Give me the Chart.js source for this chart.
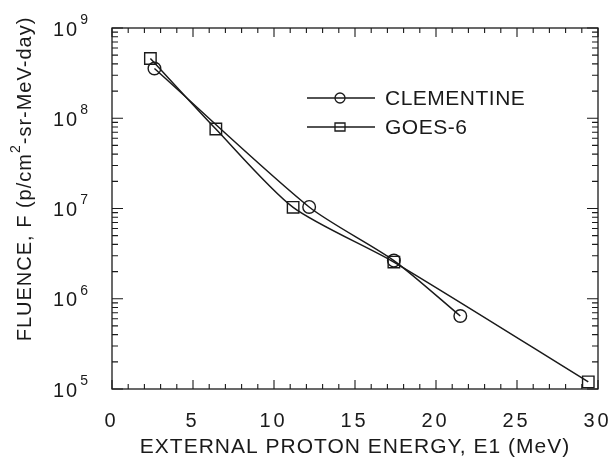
<!DOCTYPE html>
<html>
<head>
<meta charset="utf-8">
<script src="https://cdn.jsdelivr.net/npm/chart.js@4.4.0/dist/chart.umd.min.js"></script>
<style>
  body { margin: 0; background: #fff; }
  #wrap { width: 615px; height: 461px; }
</style>
</head>
<body>
<div id="wrap"><canvas id="myChart1" width="615" height="461"></canvas></div>
<script>
// energies (MeV) and fluences
var clemE = [2.62, 12.17, 17.4, 21.5];
var clemF = [3.56e8, 1.04e7, 2.65e6, 6.44e5];
var goesE = [2.37, 6.41, 11.18, 17.4, 29.4];
var goesF = [4.59e8, 7.6e7, 1.03e7, 2.55e6, 1.2e5];

var xTicks = [0, 5, 10, 15, 20, 25, 30];
var yDecades = [5, 6, 7, 8, 9];
var seriesNames = ['CLEMENTINE', 'GOES-6'];

var ink = '#1a1a1a';
var fontName = '"Liberation Sans", Arial, sans-serif';

function pts(xs, ys) {
	var out = [];
	for (var i = 0; i < xs.length; i++) {
		out.push({ x: xs[i], y: ys[i] });
	}
	return out;
}

// frame, inward ticks, labels, titles and legend
var paperAxes = {
	id: 'paperAxes',
	beforeDatasetsDraw: function(chart) {
		var ctx = chart.ctx;
		var a = chart.chartArea;
		var sx = chart.scales.x;
		var sy = chart.scales.y;
		ctx.save();
		ctx.strokeStyle = ink;
		ctx.lineWidth = 1.3;
		ctx.strokeRect(a.left, a.top, a.right - a.left, a.bottom - a.top);
		ctx.lineWidth = 1.1;
		ctx.beginPath();
		for (var v = 0; v <= 30; v++) {
			var px = sx.getPixelForValue(v);
			var len = (v % 5 == 0) ? 9 : 5;
			ctx.moveTo(px, a.bottom); ctx.lineTo(px, a.bottom - len);
			ctx.moveTo(px, a.top); ctx.lineTo(px, a.top + len);
		}
		for (var d = 5; d <= 9; d++) {
			for (var m = 1; m <= 9; m++) {
				if (d == 9 && m > 1) break;
				var py = sy.getPixelForValue(m * Math.pow(10, d));
				var l2 = (m == 1) ? 11 : 6;
				ctx.moveTo(a.left, py); ctx.lineTo(a.left + l2, py);
				ctx.moveTo(a.right, py); ctx.lineTo(a.right - l2, py);
			}
		}
		ctx.stroke();
		ctx.restore();
	},
	afterDraw: function(chart) {
		var ctx = chart.ctx;
		var a = chart.chartArea;
		var sx = chart.scales.x;
		var sy = chart.scales.y;
		ctx.save();
		ctx.fillStyle = ink;
		ctx.textBaseline = 'middle';

		// x tick labels
		ctx.font = '20px ' + fontName;
		ctx.letterSpacing = '3px';
		for (var i = 0; i < xTicks.length; i++) {
			var t = String(xTicks[i]);
			var w = ctx.measureText(t).width - 3;
			ctx.fillText(t, sx.getPixelForValue(xTicks[i]) - 2 - w / 2, 421);
		}

		// y tick labels 10^n
		for (var j = 0; j < yDecades.length; j++) {
			var py = sy.getPixelForValue(Math.pow(10, yDecades[j]));
			ctx.font = '20px ' + fontName;
			ctx.letterSpacing = '2px';
			ctx.fillText('10', 53, py + 2);
			var w2 = ctx.measureText('10').width;
			ctx.font = '14px ' + fontName;
			ctx.letterSpacing = '0px';
			ctx.fillText(String(yDecades[j]), 53 + w2 + 1, py - 8);
		}

		// x title
		ctx.font = '21px ' + fontName;
		ctx.letterSpacing = '1px';
		var xt = 'EXTERNAL PROTON ENERGY, E1 (MeV)';
		var wx = ctx.measureText(xt).width;
		ctx.fillText(xt, (a.left + a.right) / 2 - wx / 2, 447);

		// y title, rotated, with superscript 2
		ctx.translate(25, 179);
		ctx.rotate(-Math.PI / 2);
		ctx.letterSpacing = '1px';
		ctx.font = '20px ' + fontName;
		var p1 = 'FLUENCE, F (p/cm';
		var p3 = '-sr-MeV-day)';
		var w1 = ctx.measureText(p1).width;
		var w3 = ctx.measureText(p3).width;
		ctx.font = '14px ' + fontName;
		var wsup = ctx.measureText('2').width;
		var total = w1 + wsup + w3;
		var x0 = -total / 2;
		ctx.font = '20px ' + fontName;
		ctx.fillText(p1, x0, 0);
		ctx.font = '14px ' + fontName;
		ctx.fillText('2', x0 + w1, -9);
		ctx.font = '20px ' + fontName;
		ctx.fillText(p3, x0 + w1 + wsup, 0);
		ctx.setTransform(1, 0, 0, 1, 0, 0);

		// legend
		ctx.strokeStyle = ink;
		ctx.lineWidth = 1.3;
		ctx.letterSpacing = '0.5px';
		ctx.font = '21px ' + fontName;
		var rows = [98, 127];
		for (var k = 0; k < rows.length; k++) {
			var ly = rows[k];
			ctx.beginPath();
			ctx.moveTo(307, ly); ctx.lineTo(375, ly);
			ctx.stroke();
			ctx.beginPath();
			if (k == 0) {
				ctx.arc(340, ly, 5, 0, Math.PI * 2);
			} else {
				ctx.rect(335, ly - 4, 10, 8);
			}
			ctx.stroke();
			ctx.fillText(seriesNames[k], 385, ly + 1);
		}
		ctx.restore();
	}
};

var myChart1 = document.getElementById('myChart1').getContext('2d');

var fluenceChart = new Chart(myChart1, {
	type: 'scatter',
	data: {
		datasets: [
		{
			label: seriesNames[0],
			data: pts(clemE, clemF),
			showLine: true,
			borderColor: ink,
			borderWidth: 1.5,
			tension: 0.25,
			pointStyle: 'circle',
			pointRadius: 6.3,
			pointBorderWidth: 1.4,
			pointBorderColor: ink,
			pointBackgroundColor: 'rgba(0,0,0,0)'
		},
		{
			label: seriesNames[1],
			data: pts(goesE, goesF),
			showLine: true,
			borderColor: ink,
			borderWidth: 1.5,
			tension: 0.25,
			pointStyle: 'rect',
			pointRadius: 8.1,
			pointBorderWidth: 1.4,
			pointBorderColor: ink,
			pointBackgroundColor: 'rgba(0,0,0,0)'
		}
		]
	},
	plugins: [paperAxes],
	options: {
		responsive: false,
		animation: false,
		layout: { padding: { left: 112, right: 17, top: 28, bottom: 72 } },
		plugins: {
			legend: { display: false },
			tooltip: { enabled: false }
		},
		scales: {
			x: { type: 'linear', min: 0, max: 30, display: false },
			y: { type: 'logarithmic', min: 1e5, max: 1e9, display: false }
		}
	}
});
</script>
</body>
</html>
